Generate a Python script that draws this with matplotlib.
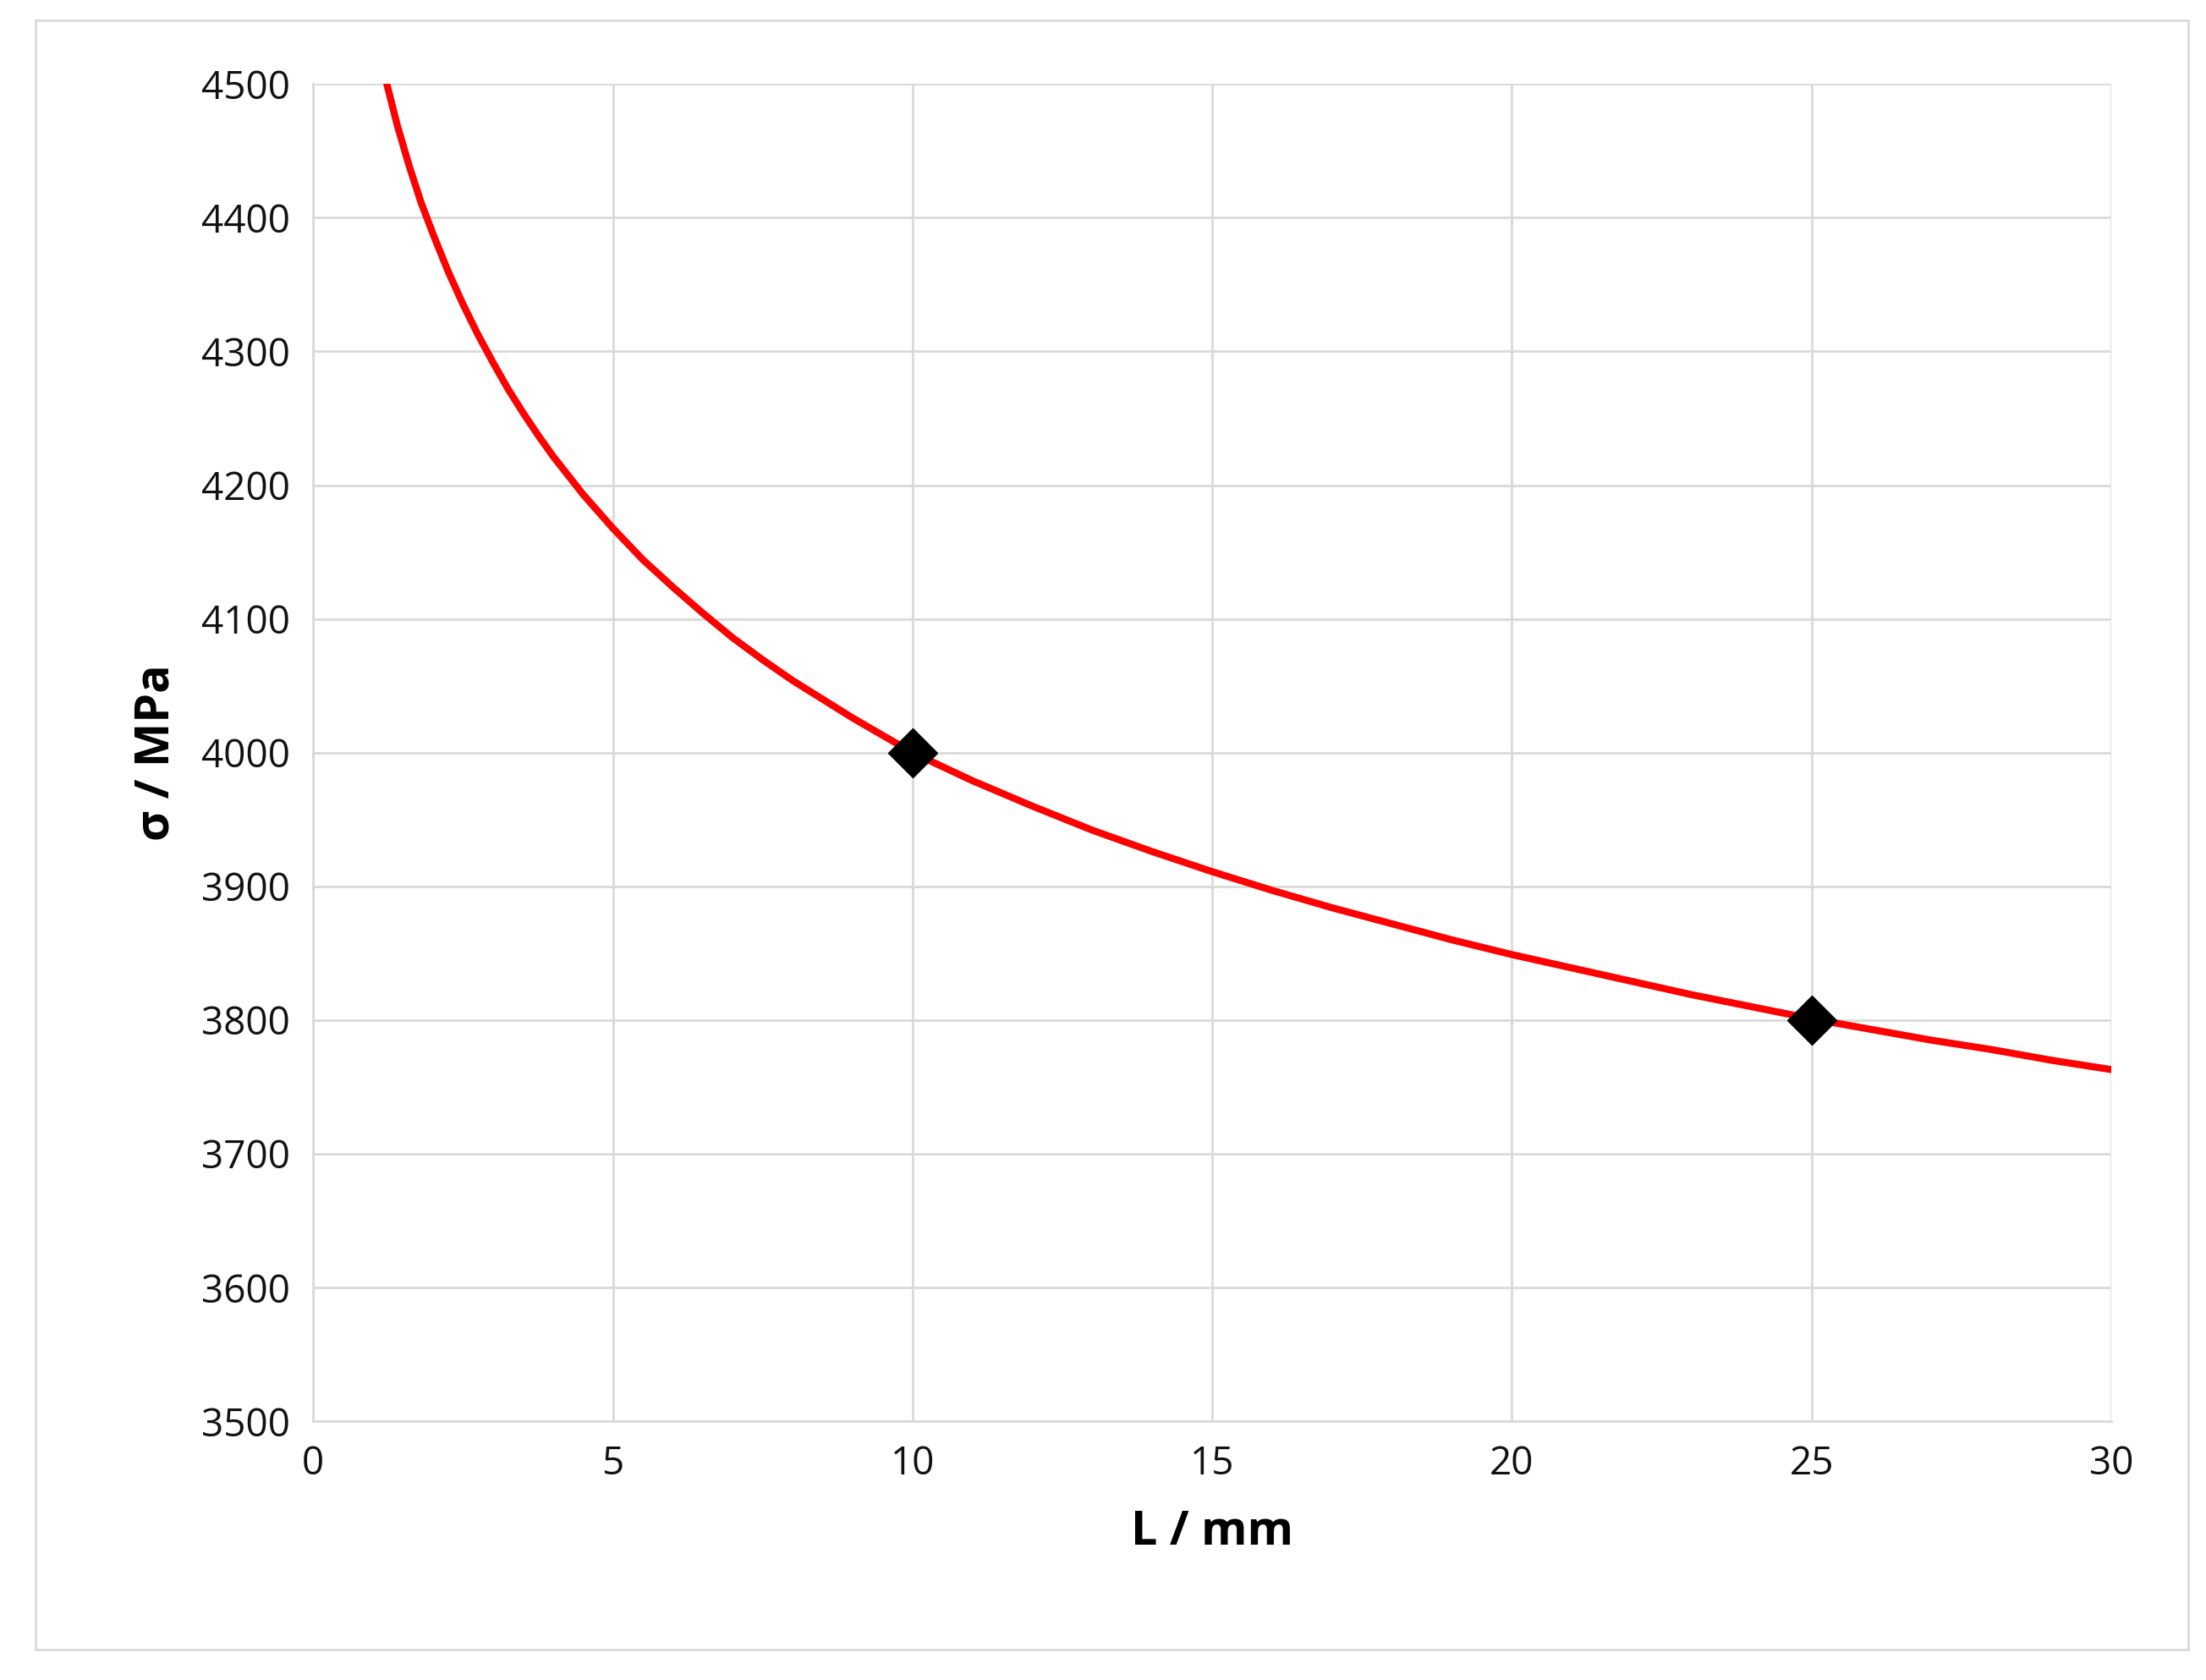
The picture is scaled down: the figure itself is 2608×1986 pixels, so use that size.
import matplotlib
matplotlib.use("Agg")
import matplotlib.pyplot as plt
from matplotlib.patches import Rectangle

L_curve = [1.2, 1.4, 1.6, 1.8, 2.0, 2.25, 2.5, 2.75, 3.0, 3.25, 3.5, 3.75, 4.0, 4.5, 5.0, 5.5, 6.0, 6.5,
           7.0, 7.5, 8.0, 9.0, 10, 11, 12, 13, 14, 15, 16, 17, 18, 19, 20, 21, 22, 23, 24, 25, 26, 27, 28, 29, 30]
s_curve = [4505, 4470, 4440, 4413, 4390, 4363, 4339, 4317, 4297, 4278, 4261, 4245, 4230, 4203, 4179, 4157,
           4138, 4120, 4103, 4088, 4074, 4049, 4026, 4005, 3986, 3968, 3952, 3937, 3923, 3910, 3898, 3886,
           3875, 3865, 3855, 3845, 3836, 3827, 3819, 3811, 3804, 3796, 3789]
L_pts = [10, 25]
s_pts = [4000, 3800]
xticks = [0, 5, 10, 15, 20, 25, 30]
yticks = [3500, 3600, 3700, 3800, 3900, 4000, 4100, 4200, 4300, 4400, 4500]

# shift so the curve passes exactly through the marked points as in the picture
s_curve = [v - 26 if L >= 10 else v - 26 * (L - 1.2) / 8.8 for L, v in zip(L_curve, s_curve)]
s_curve = [v + 0 for v in s_curve]

plt.rcParams['font.family'] = ['Open Sans', 'DejaVu Sans']
fig = plt.figure(figsize=(26.08, 19.86), dpi=100)
fig.patches.append(Rectangle((0.016, 0.018), 0.976, 0.97, transform=fig.transFigure,
                             fill=False, edgecolor='#d9d9d9', linewidth=2))
ax = fig.add_axes([0.142, 0.154, 0.815, 0.796])
ax.plot(L_curve, s_curve, color='#ff0000', linewidth=6, zorder=3)
ax.plot(L_pts, s_pts, linestyle='none', marker='D', markersize=30, color='black', zorder=4)
ax.set_xlim(0, 30)
ax.set_ylim(3500, 4500)
ax.set_xticks(xticks)
ax.set_yticks(yticks)
ax.grid(True, color='#d9d9d9', linewidth=2)
ax.tick_params(length=0, labelsize=33, pad=20, colors='#111111')
for s in ['top', 'right']:
    ax.spines[s].set_visible(False)
for s in ['left', 'bottom']:
    ax.spines[s].set_color('#d9d9d9')
    ax.spines[s].set_linewidth(2)
ax.set_xlabel('L / mm', fontsize=40, fontweight='bold', labelpad=22)
ax.set_ylabel('σ / MPa', fontsize=40, fontweight='bold', labelpad=18)
fig.savefig('out.png', dpi=100)
